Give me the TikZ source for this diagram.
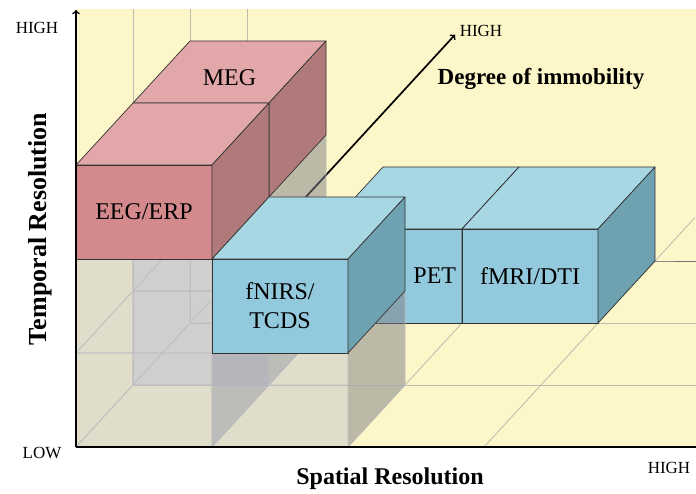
\documentclass[tikz,border=0pt]{standalone}
\usepackage{fontspec}
\setmainfont{Liberation Serif}
\usetikzlibrary{arrows}
\definecolor{wallyellow}{HTML}{FCF6C8}
\definecolor{frontred}{HTML}{D48A8D}
\definecolor{topred}{HTML}{E2A7A9}
\definecolor{sidered}{HTML}{B07A7B}
\definecolor{frontblue}{HTML}{93C9DC}
\definecolor{topblue}{HTML}{A8D7E4}
\definecolor{sideblue}{HTML}{6EA2B1}
\definecolor{ghostgray}{HTML}{BEC0D0}
\definecolor{ghostdark}{HTML}{7E7E86}
\definecolor{gridgray}{HTML}{BDBBAE}

\tikzset{
  ghost cube/.pic={
    \fill[ghost front] (0,0,0) -- (1,0,0) -- (1,1,0) -- (0,1,0) -- cycle;
    \fill[ghost side] (1,0,0) -- (1,0,1) -- (1,1,1) -- (1,1,0) -- cycle;
    \draw[ghost edge] (0,0,0) -- (1,0,0) -- (1,1,0) -- (0,1,0) -- cycle
                      (0,0,1) -- (1,0,1) -- (1,1,1) -- (0,1,1) -- cycle
                      (0,0,0) -- (0,0,1) (1,0,0) -- (1,0,1)
                      (0,1,0) -- (0,1,1) (1,1,0) -- (1,1,1);
  },
  solid box/.pic={
    \filldraw[box edge,fill=front#1] (0,0,0) -- (1,0,0) -- (1,1,0) -- (0,1,0) -- cycle;
    \filldraw[box edge,fill=top#1] (0,1,0) -- (1,1,0) -- (1,1,1) -- (0,1,1) -- cycle;
    \filldraw[box edge,fill=side#1] (1,0,0) -- (1,0,1) -- (1,1,1) -- (1,1,0) -- cycle;
  }
}

\begin{document}
\begin{tikzpicture}[x={(136pt,0pt)},y={(0pt,94pt)},z={(57pt,62pt)},
                    floor line/.style={gridgray,line width=0.8pt},
                    axis line/.style={black,line width=1.7pt},
                    box edge/.style={draw=black!80,line width=0.7pt,line join=round},
                    ghost front/.style={fill=ghostgray,fill opacity=0.45},
                    ghost side/.style={fill=ghostdark,fill opacity=0.5},
                    ghost edge/.style={draw=black!25,line width=0.6pt},
                    box label/.style={font=\fontsize{24}{29}\selectfont,align=center},
                    axis label/.style={font=\bfseries\fontsize{24}{28}\selectfont},
                    tick label/.style={font=\fontsize{17}{20}\selectfont}]
\useasboundingbox (-76pt,-46pt) rectangle (620pt,447pt);
% the yellow space behind everything
\fill[wallyellow] (0pt,0pt) rectangle (620pt,438pt);
% left wall and floor
\foreach \k in {1,2,3}
{
      \draw[floor line] (0,0,\k) -- (0,{(438-62*\k)/94},\k);
      \draw[floor line] (0,0,\k) -- ({(620-57*\k)/136},0,\k);
}
\foreach \k in {0,1,2}
      \draw[floor line] (\k,0,0) -- (\k,0,3);
\draw[floor line] (3,0,0) -- (3,0,3.7);
\draw[black!55,line width=0.8pt] (0,0,3) -- (3,0,3) -- ({(620-171)/136},0,3);
%
\coordinate (deep start) at (0,0,3);
\coordinate (deep end) at (0,0,6.65);
\draw[axis line,->] (deep start) -- (deep end);
%
% back row: PET and fMRI/DTI
\pic at (1,0,2) {solid box=blue};
\pic at (2,0,2) {solid box=blue};
% column under MEG, then MEG
\pic at (0,0,1) {ghost cube};
\pic at (0,1,1) {ghost cube};
\pic at (0,2,1) {solid box=red};
% front row
\pic at (0,0,0) {ghost cube};
\pic at (0,1,0) {ghost cube};
\pic at (1,0,0) {ghost cube};
\pic at (0,2,0) {solid box=red};
\pic at (1,1,0) {solid box=blue};
%
\node[box label,yshift=-6pt] (meg) at (0.5,3,1.5) {MEG};
\node[box label] (eeg) at (0.5,2.5,0) {EEG/ERP};
\node[box label] (fnirs) at (1.5,1.5,0) {fNIRS/\\TCDS};
\node[box label] (pet) at (1.8,0.5,2) {PET};
\node[box label] (fmri) at (2.5,0.5,2) {fMRI/DTI};
%
% axes
\coordinate (origin) at (0,0,0);
\coordinate (time top) at (0pt,437pt);
\coordinate (space end) at (620pt,0pt);
\draw[axis line,->] (origin) -- (time top);
\draw[axis line] (origin) -- (space end);
%
\node[axis label,font=\bfseries\fontsize{26}{30}\selectfont,rotate=90] (temporal) at (-36pt,218pt) {Temporal Resolution};
\node[axis label] (spatial) at (314pt,-32pt) {Spatial Resolution};
\node[axis label,font=\bfseries\fontsize{23}{28}\selectfont] (immobility) at (465pt,368pt) {Degree of immobility};
\node[tick label] (time high) at (-39pt,419pt) {HIGH};
\node[tick label] (low) at (-34pt,-6pt) {LOW};
\node[tick label] (space high) at (593pt,-21pt) {HIGH};
\node[tick label] (deep high) at (405pt,416pt) {HIGH};
\end{tikzpicture}
\end{document}
